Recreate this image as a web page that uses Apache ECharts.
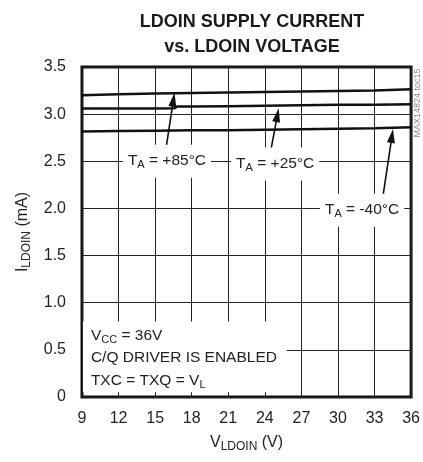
<!DOCTYPE html>
<html><head><meta charset="utf-8">
<script src="https://cdn.jsdelivr.net/npm/echarts@6/dist/echarts.min.js"></script>
<style>html,body{margin:0;padding:0;background:#fff}#c{width:423px;height:462px}</style>
</head><body><div id="c"></div>
<script>
// ---- data ----
const volts = [9, 12, 15, 18, 21, 24, 27, 30, 33, 36];
const iT85 = [3.20, 3.21, 3.22, 3.225, 3.23, 3.235, 3.24, 3.245, 3.25, 3.265];
const volts25 = [9, 12, 15, 16.6, 16.8, 18, 21, 24, 27, 30, 33, 36];
const iT25 = [3.06, 3.06, 3.06, 3.062, 3.08, 3.08, 3.085, 3.09, 3.095, 3.10, 3.10, 3.105];
const iTm40 = [2.815, 2.82, 2.825, 2.83, 2.83, 2.835, 2.84, 2.845, 2.85, 2.86];
const xTicks = [9, 12, 15, 18, 21, 24, 27, 30, 33, 36];
const yTicks = [0, 0.5, 1.0, 1.5, 2.0, 2.5, 3.0, 3.5];
// annotation anchors (data coordinates)
const arrows = [
  { from: [15.85, 2.60], to: [16.50, 3.153] },
  { from: [24.46, 2.595], to: [25.03, 2.99] },
  { from: [33.69, 2.128], to: [34.43, 2.768] }
];
const tempLabels = [
  { at: [15.97, 2.50], sub: 'A', text: ' = +85°C', pre: 'T' },
  { at: [24.85, 2.47], sub: 'A', text: ' = +25°C', pre: 'T' },
  { at: [31.98, 1.98], sub: 'A', text: ' = -40°C', pre: 'T' }
];

const FONT = 'Liberation Sans, Arial, Helvetica, sans-serif';
const pair = (xs, ys) => xs.map((x, i) => [x, ys[i]]);
const lineStyle = { color: '#111', width: 2.5 };

const chart = echarts.init(document.getElementById('c'), null, { renderer: 'canvas' });
chart.setOption({
  animation: false,
  backgroundColor: '#fff',
  title: {
    text: 'LDOIN SUPPLY CURRENT\nvs. LDOIN VOLTAGE',
    left: 247, top: 5, textAlign: 'center',
    textStyle: { fontFamily: FONT, fontSize: 18, fontWeight: 'bold', color: '#1a1a1a', lineHeight: 25 }
  },
  grid: { left: 82, right: 10, top: 67, bottom: 65, show: true, borderColor: '#111', borderWidth: 3, backgroundColor: 'transparent' },
  xAxis: {
    type: 'value', min: xTicks[0], max: xTicks[xTicks.length - 1], interval: 3,
    axisLine: { show: false }, axisTick: { show: false },
    splitLine: { show: true, lineStyle: { color: '#222', width: 1 } },
    axisLabel: { fontFamily: FONT, fontSize: 16, color: '#222', margin: 14 },
    name: '{m|V}{s|LDOIN}{m| (V)}', nameLocation: 'middle', nameGap: 36,
    nameTextStyle: { fontFamily: FONT, color: '#222',
      rich: { m: { fontSize: 16, lineHeight: 20, fontFamily: FONT, color: '#222' },
              s: { fontSize: 12, lineHeight: 13, verticalAlign: 'bottom', fontFamily: FONT, color: '#222' } } }
  },
  yAxis: {
    type: 'value', min: yTicks[0], max: yTicks[yTicks.length - 1], interval: 0.5,
    axisLine: { show: false }, axisTick: { show: false },
    splitLine: { show: true, lineStyle: { color: '#222', width: 1 } },
    axisLabel: { fontFamily: FONT, fontSize: 16, color: '#222', margin: 16,
      formatter: v => (v === 0 ? '0' : v.toFixed(1)) },
    name: '{m|I}{s|LDOIN}{m| (mA)}', nameLocation: 'middle', nameGap: 48,
    nameTextStyle: { fontFamily: FONT, color: '#222',
      rich: { m: { fontSize: 16, lineHeight: 20, fontFamily: FONT, color: '#222' },
              s: { fontSize: 12, lineHeight: 13, verticalAlign: 'bottom', fontFamily: FONT, color: '#222' } } }
  },
  series: [
    { name: '+85°C', type: 'line', data: pair(volts, iT85), showSymbol: false, symbol: 'none', lineStyle, z: 3,
      markLine: {
        silent: true, symbol: ['none', 'triangle'], symbolSize: [8, 14],
        lineStyle: { color: '#111', width: 1.6, type: 'solid' }, label: { show: false },
        data: arrows.map(a => [{ coord: a.from }, { coord: a.to }])
      } },
    { name: '+25°C', type: 'line', data: pair(volts25, iT25), showSymbol: false, symbol: 'none', lineStyle, z: 3 },
    { name: '-40°C', type: 'line', data: pair(volts, iTm40), showSymbol: false, symbol: 'none', lineStyle, z: 3 }
  ]
});

function px(p) { return chart.convertToPixel({ gridIndex: 0 }, p); }
const sub = { n: { fontSize: 15.5, lineHeight: 20, fontFamily: FONT, fill: '#222' },
              s: { fontSize: 11, lineHeight: 12, verticalAlign: 'bottom', fontFamily: FONT, fill: '#222' } };
const graphics = [];
tempLabels.forEach(l => {
  const p = px(l.at);
  graphics.push({
    type: 'text', x: p[0], y: p[1], z: 100,
    style: { text: '{n|' + l.pre + '}{s|' + l.sub + '}{n|' + l.text + '}', rich: sub,
      align: 'center', verticalAlign: 'middle', backgroundColor: '#fff', padding: [6, 5, 7, 5] }
  });
});
// bottom-left condition box
const boxTL = px([9.08, 0.80]), boxBR = px([25.8, 0.05]);
graphics.push({ type: 'rect', z: 90, shape: { x: boxTL[0], y: boxTL[1], width: boxBR[0] - boxTL[0], height: boxBR[1] - boxTL[1] }, style: { fill: '#fff' } });
const condLines = [
  { at: [9.73, 0.654], txt: '{n|V}{s|CC}{n| = 36V}' },
  { at: [9.73, 0.42], txt: '{n|C/Q DRIVER IS ENABLED}' },
  { at: [9.73, 0.177], txt: '{n|TXC = TXQ = V}{s|L}' }
];
condLines.forEach(c => {
  const p = px(c.at);
  graphics.push({ type: 'text', x: p[0], y: p[1], z: 100,
    style: { text: c.txt, rich: sub, align: 'left', verticalAlign: 'middle' } });
});
// side watermark
graphics.push({ type: 'text', x: 418, y: 103, rotation: Math.PI / 2, z: 100,
  style: { text: 'MAX14824 toc15', fontFamily: FONT, fontSize: 9, fill: '#888', align: 'center', verticalAlign: 'middle' } });
chart.setOption({ graphic: graphics });
</script>
</body></html>
